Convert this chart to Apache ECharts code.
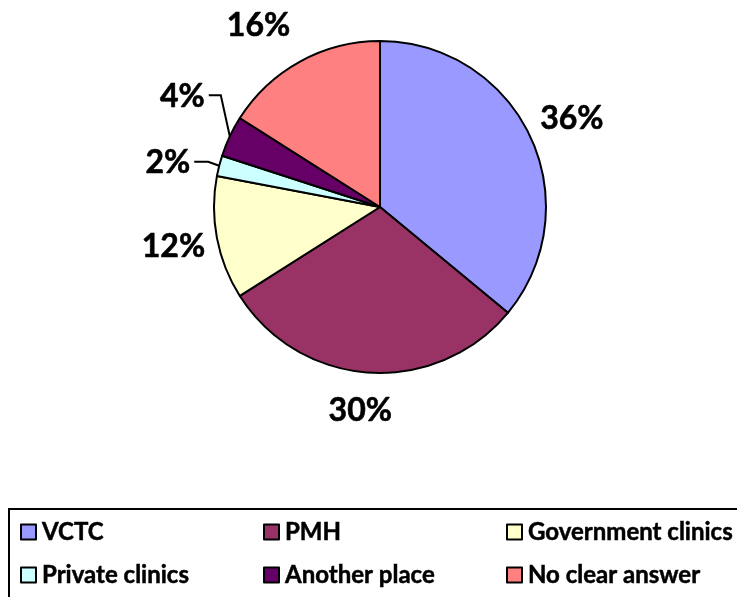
<!DOCTYPE html>
<html><head><meta charset="utf-8">
<script src="https://cdn.jsdelivr.net/npm/echarts@6/dist/echarts.min.js"></script>
<style>html,body{margin:0;padding:0;background:#fff}#c{width:737px;height:597px}</style>
</head><body><div id="c"></div>
<script>
const categories = ['VCTC', 'PMH', 'Government clinics', 'Private clinics', 'Another place', 'No clear answer'];
const values = [36, 30, 12, 2, 4, 16];
const colors = ['#9999FF', '#993366', '#FFFFCC', '#CCFFFF', '#660066', '#FF8080'];
const showLine = [false, false, false, true, true, false];

// label placement tweaks (offsets from ECharts' default outside placement)
const labelShift = {0: [-14, -13], 1: [38, 28], 2: [13, 7], 5: [10, -27]};
// leader-line shape for small slices: [dx1, dy1, horizontal length]
const leader = {3: [-11, -4, -14], 4: [-9, -41, -12]};

const FONT = 'Lato';
const chart = echarts.init(document.getElementById('c'), null, {renderer: 'canvas'});
const data = categories.map((n, i) => ({
  name: n, value: values[i],
  itemStyle: {color: colors[i]},
  labelLine: {show: showLine[i]}
}));
const legendCols = [[0, 3], [1, 4], [2, 5]];
const legendLeft = [20, 263, 506];
const option = {
  animation: false,
  graphic: [{type: 'rect', shape: {x: 9, y: 509, width: 760, height: 120},
    style: {fill: 'none', stroke: '#000', lineWidth: 2}, z: 0}],
  legend: legendCols.map((col, k) => ({
    orient: 'vertical', left: legendLeft[k], top: 518, padding: 0,
    data: col.map(i => categories[i]),
    icon: 'rect', itemWidth: 15, itemHeight: 15, itemGap: 15,
    itemStyle: {borderColor: '#000', borderWidth: 2},
    textStyle: {fontFamily: FONT, fontWeight: 'bold', fontSize: 24, color: '#000', lineHeight: 28,
      textBorderColor: '#000', textBorderWidth: 0.5, padding: [0, 0, 0, 1]}
  })),
  series: [{
    type: 'pie', center: [380, 207], radius: 166, startAngle: 90, clockwise: true,
    avoidLabelOverlap: false,
    data: data,
    itemStyle: {borderColor: '#000', borderWidth: 2},
    label: {show: true, position: 'outside', formatter: '{d}%', fontFamily: FONT, fontWeight: 'bold',
      fontSize: 32, color: '#000', textBorderColor: '#000', textBorderWidth: 0.6},
    labelLine: {show: true, length: 10, length2: 10, smooth: false, lineStyle: {color: '#000', width: 2}},
    labelLayout: function (p) {
      const i = p.dataIndex;
      if (leader[i] && p.labelLinePoints) {
        const p0 = p.labelLinePoints[0];
        const l = leader[i];
        const p1 = [p0[0] + l[0], p0[1] + l[1]];
        const p2 = [p1[0] + l[2], p1[1]];
        return {x: p2[0] - 4, y: p2[1] + 1, align: 'right', verticalAlign: 'middle',
          labelLinePoints: [p0, p1, p2]};
      }
      if (labelShift[i]) return {dx: labelShift[i][0], dy: labelShift[i][1]};
      return {};
    },
    emphasis: {disabled: true}
  }]
};
chart.setOption(option);
</script></body></html>
